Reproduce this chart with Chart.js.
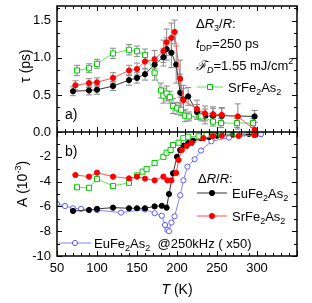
<!DOCTYPE html>
<html>
<head>
<meta charset="utf-8">
<script src="https://cdn.jsdelivr.net/npm/chart.js@4.4.1/dist/chart.umd.min.js"></script>
<style>
  html, body { margin: 0; padding: 0; background: #fff; }
  #wrap { width: 312px; height: 303px; }
</style>
</head>
<body>
<div id="wrap"><canvas id="chart"></canvas></div>
<script>
// ---- panel a): relaxation time tau (ps) ----
const tauEuT   = [70, 90, 100, 120, 140, 150, 160, 172, 183, 187, 193, 199, 204, 208, 214, 225, 235, 245, 256, 297];
const tauEu    = [0.55, 0.56, 0.57, 0.62, 0.70, 0.73, 0.78, 0.91, 1.01, 1.12, 1.07, 0.91, 0.53, 0.44, 0.48, 0.27, 0.21, 0.22, 0.22, 0.21];
const tauEuErr = [0.06, 0.06, 0.06, 0.06, 0.07, 0.07, 0.08, 0.10, 0.12, 0.15, 0.20, 0.25, 0.25, 0.15, 0.12, 0.10, 0.10, 0.10, 0.10, 0.08];

const tauSrT   = [73, 90, 100, 120, 140, 150, 160, 172, 183, 187, 193, 197, 204, 208, 225, 235, 245, 256, 276, 297];
const tauSr    = [0.63, 0.66, 0.67, 0.73, 0.83, 0.85, 0.95, 0.98, 1.09, 1.21, 1.27, 1.35, 0.72, 0.43, 0.31, 0.25, 0.24, 0.23, 0.21, 0.03];
const tauSrErr = [0.06, 0.06, 0.06, 0.07, 0.07, 0.08, 0.10, 0.12, 0.15, 0.18, 0.20, 0.16, 0.25, 0.20, 0.12, 0.10, 0.10, 0.10, 0.17, 0.10];

const tau3T    = [75, 90, 100, 120, 140, 150, 160, 172, 180, 183, 187, 191, 195, 200, 205, 210, 215, 230, 245, 255, 275, 295];
const tau3     = [0.83, 0.86, 0.92, 1.06, 1.11, 1.09, 1.04, 0.80, 0.56, 0.49, 0.52, 0.47, 0.35, 0.32, 0.30, 0.22, 0.21, 0.21, 0.14, 0.12, 0.12, 0.12];
const tau3Err  = [0.07, 0.06, 0.06, 0.07, 0.07, 0.07, 0.08, 0.10, 0.10, 0.10, 0.10, 0.08, 0.10, 0.08, 0.08, 0.08, 0.06, 0.06, 0.06, 0.06, 0.06, 0.06];

// ---- panel b): amplitude A (10^-3) ----
const ampEuT  = [70, 90, 100, 120, 140, 150, 160, 172, 181, 187, 190, 195, 200, 204, 208, 214, 220, 230, 240, 250, 270, 290];
const ampEu   = [-6.37, -6.29, -6.2, -6.1, -6.15, -6.15, -6.15, -6.0, -5.95, -6.1, -5.0, -3.33, -2.0, -1.45, -1.1, -0.9, -0.7, -0.5, -0.4, -0.3, -0.2, -0.15];

const ampSrT  = [73, 90, 100, 120, 140, 150, 160, 172, 183, 188, 193, 199, 202, 206, 212, 218, 233, 245, 256, 277, 297];
const ampSr   = [-3.47, -3.6, -3.28, -3.6, -3.74, -3.6, -3.76, -3.9, -3.6, -3.9, -3.9, -3.3, -2.26, -1.45, -1.13, -0.9, -0.5, -0.32, -0.3, -0.32, -0.24];

const amp3T   = [75, 90, 100, 120, 140, 150, 157, 162, 172, 183, 187, 192, 195, 202, 208, 214, 227, 237, 245, 255, 275, 297];
const amp3    = [-4.46, -4.5, -3.8, -4.35, -4.1, -3.5, -3.2, -3.0, -2.5, -2.0, -1.67, -1.45, -1.05, -0.86, -0.5, -0.38, -0.35, -0.24, -0.22, -0.18, -0.15, -0.1];

const ampKhzT = [50, 60, 70, 80, 100, 130, 160, 172, 181, 185, 188, 190, 193, 197, 204, 208, 213, 222, 230, 243, 265, 305];
const ampKhz  = [-5.8, -5.97, -6.15, -6.2, -6.3, -6.5, -6.25, -6.55, -6.75, -7.5, -7.9, -8.0, -7.3, -6.8, -5.1, -3.9, -2.8, -2.2, -1.5, -0.75, -0.45, -0.18];

// ---- axis ticks ----
const xMajor = [50, 100, 150, 200, 250, 300, 350];
const xLabels = ["50", "100", "150", "200", "250", "300"];
const tauMajor = [0, 0.5, 1.0, 1.5];
const tauLabels = ["0.0", "0.5", "1.0", "1.5"];
const ampMajor = [-2, -4, -6, -8, -10];
const ampLabels = ["-2", "-4", "-6", "-8", "-10"];

const FONT = '"Liberation Sans", Arial, sans-serif';
const BLACK = "#000000", RED = "#ff0000", GREEN = "#00c800", BLUE = "#5a5aff";

function pts(xs, ys) {
    return xs.map((x, i) => ({ x, y: ys[i] }));
}

function series(label, xs, ys, axis, opts) {
    return Object.assign({
        label,
        data: pts(xs, ys),
        yAxisID: axis,
        borderWidth: 1,
        pointRadius: 2.6,
        pointBorderWidth: 1,
        tension: 0,
        fill: false
    }, opts);
}

// draw a run of text pieces: [text, size, dy, italic]
function rich(ctx, x, y, runs, color) {
    ctx.save();
    ctx.fillStyle = color || "#000";
    ctx.textAlign = "left";
    ctx.textBaseline = "alphabetic";
    let cx = x;
    runs.forEach(r => {
        const [t, size, dy, it] = r;
        ctx.font = (it ? "italic " : "") + size + "px " + FONT;
        ctx.fillText(t, cx, y + (dy || 0));
        cx += ctx.measureText(t).width;
    });
    ctx.restore();
    return cx - x;
}

function richWidth(ctx, runs) {
    let w = 0;
    ctx.save();
    runs.forEach(r => {
        ctx.font = (r[3] ? "italic " : "") + r[1] + "px " + FONT;
        w += ctx.measureText(r[0]).width;
    });
    ctx.restore();
    return w;
}

function legendMark(ctx, x0, x1, y, lineColor, style, color, fillColor) {
    ctx.save();
    ctx.strokeStyle = lineColor;
    ctx.lineWidth = 1;
    ctx.beginPath();
    ctx.moveTo(x0, y);
    ctx.lineTo(x1, y);
    ctx.stroke();
    const cx = (x0 + x1) / 2;
    ctx.strokeStyle = color;
    ctx.fillStyle = fillColor;
    ctx.beginPath();
    if (style === "rect") {
        ctx.rect(cx - 2.5, y - 2.5, 5, 5);
    } else {
        ctx.arc(cx, y, 2.6, 0, Math.PI * 2);
    }
    ctx.fill();
    ctx.stroke();
    ctx.restore();
}

const errorBars = {
    id: "errorBars",
    beforeDatasetsDraw(chart) {
        const ctx = chart.ctx;
        const xs = chart.scales.x, ys = chart.scales.yA;
        const sets = [[tauEuT, tauEu, tauEuErr], [tauSrT, tauSr, tauSrErr], [tau3T, tau3, tau3Err]];
        ctx.save();
        ctx.strokeStyle = "#8a8a8a";
        ctx.lineWidth = 1;
        sets.forEach(([t, v, e]) => {
            t.forEach((tt, i) => {
                const px = xs.getPixelForValue(tt);
                const top = ys.getPixelForValue(v[i] + e[i]);
                const bot = ys.getPixelForValue(v[i] - e[i]);
                ctx.beginPath();
                ctx.moveTo(px, top); ctx.lineTo(px, bot);
                ctx.moveTo(px - 3, top); ctx.lineTo(px + 3, top);
                ctx.moveTo(px - 3, bot); ctx.lineTo(px + 3, bot);
                ctx.stroke();
            });
        });
        ctx.restore();
    }
};

const frame = {
    id: "frame",
    afterDraw(chart) {
        const ctx = chart.ctx;
        const ca = chart.chartArea;
        const xs = chart.scales.x, ya = chart.scales.yA, yb = chart.scales.yB;
        const L = ca.left, R = ca.right, T = ca.top, B = ca.bottom;
        const M = ya.getPixelForValue(0);

        ctx.save();
        ctx.strokeStyle = "#000";
        ctx.lineWidth = 1.5;
        ctx.strokeRect(L, T, R - L, B - T);
        ctx.beginPath();
        ctx.moveTo(L, M); ctx.lineTo(R, M);
        ctx.stroke();

        // x ticks
        ctx.lineWidth = 1;
        ctx.beginPath();
        for (let v = 50; v <= 350; v += 10) {
            const px = Math.round(xs.getPixelForValue(v)) + 0.5;
            const len = v % 50 === 0 ? 5 : 3;
            ctx.moveTo(px, B); ctx.lineTo(px, B - len);
            ctx.moveTo(px, T); ctx.lineTo(px, T + len);
            ctx.moveTo(px, M - len); ctx.lineTo(px, M + len);
        }
        // tau ticks (minor every 1/6)
        for (let k = 0; k <= 10; k++) {
            const v = k / 6;
            if (v > 1.7) break;
            const py = Math.round(ya.getPixelForValue(v)) + 0.5;
            const len = k % 3 === 0 ? 5 : 3;
            ctx.moveTo(L, py); ctx.lineTo(L + len, py);
            ctx.moveTo(R, py); ctx.lineTo(R - len, py);
        }
        // amplitude ticks
        for (let v = -1; v >= -10; v--) {
            const py = Math.round(yb.getPixelForValue(v)) + 0.5;
            const len = v % 2 === 0 ? 5 : 3;
            ctx.moveTo(L, py); ctx.lineTo(L + len, py);
            ctx.moveTo(R, py); ctx.lineTo(R - len, py);
        }
        ctx.stroke();

        // tick labels
        ctx.fillStyle = "#000";
        ctx.font = "13px " + FONT;
        ctx.textAlign = "right";
        ctx.textBaseline = "middle";
        tauMajor.forEach((v, i) => ctx.fillText(tauLabels[i], L - 6, ya.getPixelForValue(v)));
        ampMajor.forEach((v, i) => ctx.fillText(ampLabels[i], L - 6, yb.getPixelForValue(v)));
        ctx.textAlign = "center";
        xLabels.forEach((s, i) => ctx.fillText(s, xs.getPixelForValue(xMajor[i]), B + 12));

        // axis titles
        const xt = [["T", 14, 0, true], [" (K)", 14, 0, false]];
        rich(ctx, 177 - richWidth(ctx, xt) / 2, 294, xt);

        const yt1 = [["τ (ps)", 14, 0, false]];
        const yt2 = [["A (10", 14, 0, false], ["-3", 9, -6, false], [")", 14, 0, false]];
        ctx.save();
        ctx.translate(30, 66);
        ctx.rotate(-Math.PI / 2);
        rich(ctx, -richWidth(ctx, yt1) / 2, 0, yt1);
        ctx.restore();
        ctx.save();
        ctx.translate(27, 184);
        ctx.rotate(-Math.PI / 2);
        rich(ctx, -richWidth(ctx, yt2) / 2, 0, yt2);
        ctx.restore();

        // panel labels
        rich(ctx, 65, 119, [["a)", 14, 0, false]]);
        rich(ctx, 65, 156, [["b)", 14, 0, false]]);

        // legend, panel a)
        rich(ctx, 196, 28, [["Δ", 13, 0, false], ["R", 13, 0, true], ["3", 9, 3, false], ["/", 13, 0, false], ["R", 13, 0, true], [":", 13, 0, false]]);
        rich(ctx, 196, 48, [["t", 13, 0, true], ["DP", 9, 3, false], ["=250 ps", 13, 0, false]]);
        rich(ctx, 196, 70, [["ℱ", 13, 0, true], ["D", 9, 3, true], ["=1.55 mJ/cm", 13, 0, false], ["2", 9, -6, false]]);
        legendMark(ctx, 197, 223, 87, "#66dd66", "rect", GREEN, "#fff");
        rich(ctx, 228, 92, [["SrFe", 13, 0, false], ["2", 9, 3, false], ["As", 13, 0, false], ["2", 9, 3, false]]);

        // legend, panel b)
        rich(ctx, 198, 183, [["Δ", 13, 0, false], ["R", 13, 0, true], ["/", 13, 0, false], ["R", 13, 0, true], [":", 13, 0, false]]);
        legendMark(ctx, 197, 227, 193, "#333", "circle", BLACK, BLACK);
        rich(ctx, 232, 198, [["EuFe", 13, 0, false], ["2", 9, 3, false], ["As", 13, 0, false], ["2", 9, 3, false]]);
        legendMark(ctx, 197, 227, 216, "#ff5050", "circle", RED, RED);
        rich(ctx, 232, 221, [["SrFe", 13, 0, false], ["2", 9, 3, false], ["As", 13, 0, false], ["2", 9, 3, false]]);
        legendMark(ctx, 59, 91, 243, "#8080ff", "circle", BLUE, "#fff");
        rich(ctx, 94, 248, [["EuFe", 13, 0, false], ["2", 9, 3, false], ["As", 13, 0, false], ["2", 9, 3, false], ["  @250kHz ( x50)", 13, 0, false]]);

        ctx.restore();
    }
};

new Chart(document.getElementById("chart"), {
    type: "line",
    data: {
        datasets: [
            series("SrFe2As2 dR/R tau", tauSrT, tauSr, "yA", { borderColor: "#ff5050", pointBackgroundColor: RED, pointBorderColor: RED, order: 0 }),
            series("SrFe2As2 dR3/R tau", tau3T, tau3, "yA", { borderColor: "#66dd66", pointStyle: "rect", pointRadius: 3.6, pointBackgroundColor: "#fff", pointBorderColor: GREEN, order: 1 }),
            series("EuFe2As2 dR/R tau", tauEuT, tauEu, "yA", { borderColor: "#333", pointBackgroundColor: BLACK, pointBorderColor: BLACK, order: 2 }),
            series("SrFe2As2 dR/R A", ampSrT, ampSr, "yB", { borderColor: "#ff5050", pointBackgroundColor: RED, pointBorderColor: RED, order: 3 }),
            series("SrFe2As2 dR3/R A", amp3T, amp3, "yB", { borderColor: "#66dd66", pointStyle: "rect", pointRadius: 3.6, pointBackgroundColor: "#fff", pointBorderColor: GREEN, order: 4 }),
            series("EuFe2As2 dR/R A", ampEuT, ampEu, "yB", { borderColor: "#333", pointBackgroundColor: BLACK, pointBorderColor: BLACK, order: 5 }),
            series("EuFe2As2 250kHz A", ampKhzT, ampKhz, "yB", { borderColor: "#8080ff", pointBackgroundColor: "#fff", pointBorderColor: BLUE, order: 6 })
        ]
    },
    options: {
        responsive: true,
        maintainAspectRatio: false,
        animation: false,
        events: [],
        layout: { padding: { left: 57, right: 15, top: 6, bottom: 47 } },
        plugins: { legend: { display: false }, tooltip: { enabled: false } },
        scales: {
            x: { type: "linear", min: 50, max: 350, display: false },
            yA: { type: "linear", position: "left", min: 0, max: 1.7, display: false, stack: "v", stackWeight: 126, weight: 2 },
            yB: { type: "linear", position: "left", min: -10, max: 0, display: false, stack: "v", stackWeight: 124, weight: 1 }
        }
    },
    plugins: [errorBars, frame]
});
</script>
</body>
</html>
